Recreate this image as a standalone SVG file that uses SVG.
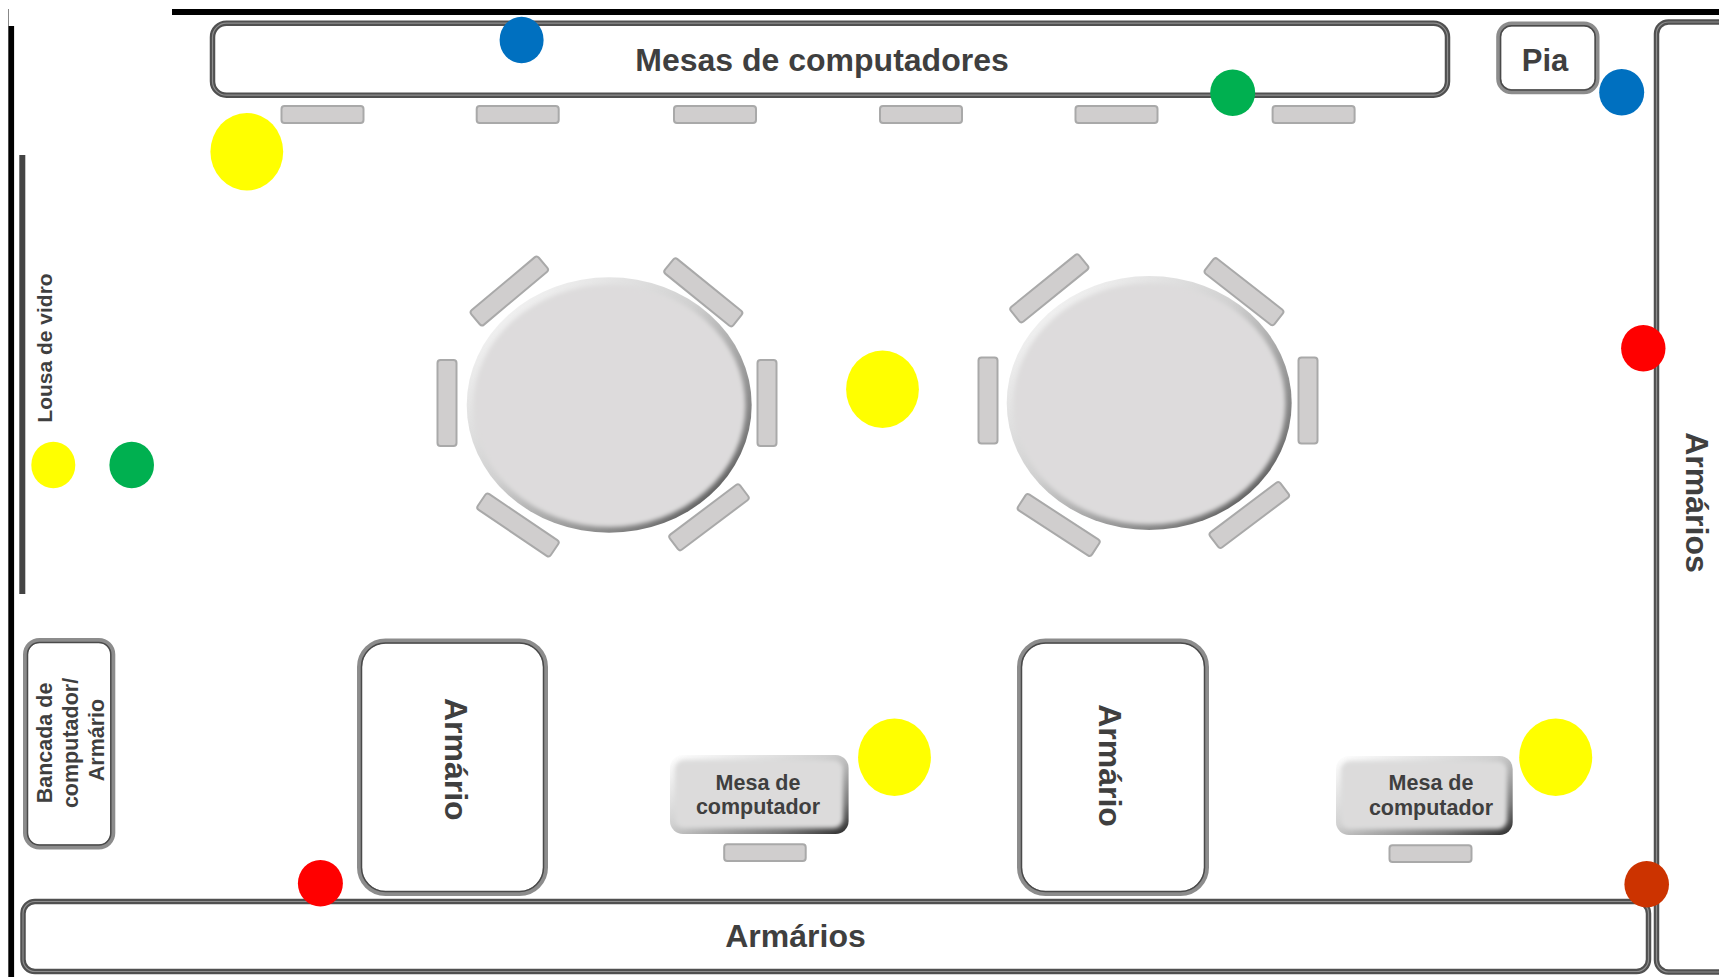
<svg xmlns="http://www.w3.org/2000/svg" width="1719" height="977" viewBox="0 0 1719 977">
  <defs>
    <linearGradient id="bevel" x1="0" y1="0" x2="1" y2="1">
      <stop offset="0" stop-color="#ffffff"/>
      <stop offset="0.45" stop-color="#d0d0d0"/>
      <stop offset="0.8" stop-color="#7a7a7a"/>
      <stop offset="1" stop-color="#2a2a2a"/>
    </linearGradient>
    <filter id="soft" x="-10%" y="-10%" width="120%" height="120%">
      <feGaussianBlur stdDeviation="2"/>
    </filter>
    <style>
      .wall { fill: #000000; }
      .frame { fill: #ffffff; stroke: #505050; stroke-width: 5.5; }
      .frameline { fill: none; stroke: #8e8e8e; stroke-width: 1.2; }
      .box { fill: #ffffff; stroke: #8c8c8c; stroke-width: 5; }
      .boxline { fill: none; stroke: #4a4a4a; stroke-width: 1.5; }
      .chair { fill: #d0cece; stroke: #a9a9a9; stroke-width: 2; }
      .tabletop { fill: #dddbdc; }
      .lbl { font-family: "Liberation Sans", Arial, sans-serif; font-weight: bold; fill: #3f3f3f; text-anchor: middle; }
      .yellow { fill: #ffff00; }
      .green { fill: #00b050; }
      .blue { fill: #0070c0; }
      .red { fill: #ff0000; }
      .orange { fill: #cc3300; }
    </style>
  </defs>

  <rect width="1719" height="977" fill="#ffffff"/>

  <!-- walls -->
  <g id="walls">
    <line x1="8.5" y1="9" x2="8.5" y2="26" stroke="#888888" stroke-width="1"/>
    <rect class="wall" x="8.3" y="26" width="5.8" height="951"/>
    <rect class="wall" x="172" y="9" width="1547" height="6"/>
  </g>

  <!-- Lousa de vidro -->
  <g id="lousa">
    <rect x="19.3" y="155" width="6" height="439" fill="#444444"/>
    <text class="lbl" font-size="21" transform="translate(51.7,348) rotate(-90)">Lousa de vidro</text>
  </g>

  <!-- Mesas de computadores -->
  <g id="mesas-computadores">
    <rect class="frame" x="212.5" y="23.2" width="1235" height="72" rx="14"/>
    <rect class="frameline" x="212.5" y="23.2" width="1235" height="72" rx="14"/>
    <text class="lbl" font-size="32" x="822" y="71">Mesas de computadores</text>
  </g>

  <!-- top chairs -->
  <g id="cadeiras-topo">
    <rect class="chair" x="281.5" y="106" width="82" height="17" rx="3"/>
    <rect class="chair" x="476.7" y="106" width="82" height="17" rx="3"/>
    <rect class="chair" x="674" y="106" width="82" height="17" rx="3"/>
    <rect class="chair" x="880" y="106" width="82" height="17" rx="3"/>
    <rect class="chair" x="1075.5" y="106" width="82" height="17" rx="3"/>
    <rect class="chair" x="1272.6" y="106" width="82" height="17" rx="3"/>
  </g>

  <!-- Pia -->
  <g id="pia">
    <rect class="box" x="1498.7" y="24" width="98.3" height="67.7" rx="13"/>
    <rect class="boxline" x="1500.5" y="25.8" width="94.7" height="64.1" rx="11"/>
    <text class="lbl" font-size="31" x="1545" y="71">Pia</text>
  </g>

  <!-- Armários (right) -->
  <g id="armarios-direita">
    <rect class="frame" x="1656.5" y="22" width="120" height="950" rx="12"/>
    <rect class="frameline" x="1656.5" y="22" width="120" height="950" rx="12"/>
    <text class="lbl" font-size="32" transform="translate(1685.5,502.5) rotate(90)">Armários</text>
  </g>

  <!-- Armários (bottom) -->
  <g id="armarios-baixo">
    <rect class="frame" x="23" y="901.5" width="1625.5" height="70" rx="12"/>
    <rect class="frameline" x="23" y="901.5" width="1625.5" height="70" rx="12"/>
    <text class="lbl" font-size="32" x="795.5" y="947">Armários</text>
  </g>

  <!-- Bancada -->
  <g id="bancada">
    <rect class="box" x="25.5" y="640.5" width="87.3" height="206.6" rx="14"/>
    <rect class="boxline" x="27.5" y="642.5" width="83.3" height="202.6" rx="12"/>
    <text class="lbl" font-size="21.5" transform="translate(51.8,740) rotate(-90)">
      <tspan x="0" y="0">Bancada de</tspan>
      <tspan x="0" y="26.2">computador/</tspan>
      <tspan x="0" y="52.5">Armário</tspan>
    </text>
  </g>

  <!-- Armário 1 -->
  <g id="armario-1">
    <rect class="box" x="359.5" y="641" width="186" height="252.5" rx="26"/>
    <rect class="boxline" x="361.5" y="643" width="182" height="248.5" rx="24"/>
    <text class="lbl" font-size="32" transform="translate(445,759.3) rotate(90)">Armário</text>
  </g>

  <!-- Armário 2 -->
  <g id="armario-2">
    <rect class="box" x="1019.5" y="641" width="187" height="252.5" rx="26"/>
    <rect class="boxline" x="1021.5" y="643" width="183" height="248.5" rx="24"/>
    <text class="lbl" font-size="32" transform="translate(1099,765.5) rotate(90)">Armário</text>
  </g>

  <!-- Mesa redonda 1 -->
  <g id="mesa-redonda-1">
    <rect class="chair" x="437.5" y="360" width="19" height="86" rx="3"/>
    <rect class="chair" x="757.5" y="360" width="19" height="86" rx="3"/>
    <rect class="chair" x="-44" y="-9.5" width="88" height="19" rx="3" transform="translate(509.3,291) rotate(-40)"/>
    <rect class="chair" x="-44" y="-9.5" width="88" height="19" rx="3" transform="translate(703.3,292.3) rotate(39)"/>
    <rect class="chair" x="-44" y="-9.5" width="88" height="19" rx="3" transform="translate(518,525) rotate(34)"/>
    <rect class="chair" x="-44" y="-9.5" width="88" height="19" rx="3" transform="translate(709,517.3) rotate(-37)"/>
    <ellipse cx="609.2" cy="405" rx="142.5" ry="127.7" fill="url(#bevel)"/>
    <ellipse class="tabletop" cx="609.5" cy="406" rx="136" ry="121" filter="url(#soft)"/>
  </g>

  <!-- Mesa redonda 2 -->
  <g id="mesa-redonda-2">
    <rect class="chair" x="978.5" y="357.5" width="19" height="86" rx="3"/>
    <rect class="chair" x="1298.5" y="357.5" width="19" height="86" rx="3"/>
    <rect class="chair" x="-44" y="-9.5" width="88" height="19" rx="3" transform="translate(1049.3,288.3) rotate(-39)"/>
    <rect class="chair" x="-44" y="-9.5" width="88" height="19" rx="3" transform="translate(1244,291.7) rotate(38)"/>
    <rect class="chair" x="-44" y="-9.5" width="88" height="19" rx="3" transform="translate(1058.7,525) rotate(33)"/>
    <rect class="chair" x="-44" y="-9.5" width="88" height="19" rx="3" transform="translate(1249.3,515) rotate(-37)"/>
    <ellipse cx="1149.2" cy="403" rx="142.5" ry="127" fill="url(#bevel)"/>
    <ellipse class="tabletop" cx="1149.5" cy="404" rx="136" ry="120.5" filter="url(#soft)"/>
  </g>

  <!-- Mesa de computador 1 -->
  <g id="mesa-computador-1">
    <rect x="670" y="755" width="178.6" height="79" rx="13" fill="url(#bevel)"/>
    <rect x="675" y="760" width="168" height="68" rx="9" fill="#dcdbdb" filter="url(#soft)"/>
    <text class="lbl" font-size="21.5" x="758" y="790">Mesa de</text>
    <text class="lbl" font-size="21.5" x="758" y="814">computador</text>
    <rect class="chair" x="724.2" y="844.3" width="81.5" height="16.7" rx="3"/>
  </g>

  <!-- Mesa de computador 2 -->
  <g id="mesa-computador-2">
    <rect x="1336" y="756" width="176.7" height="79" rx="13" fill="url(#bevel)"/>
    <rect x="1341" y="761" width="166" height="68" rx="9" fill="#dcdbdb" filter="url(#soft)"/>
    <text class="lbl" font-size="21.5" x="1431" y="790">Mesa de</text>
    <text class="lbl" font-size="21.5" x="1431" y="815">computador</text>
    <rect class="chair" x="1389.5" y="845.3" width="82" height="16.7" rx="3"/>
  </g>

  <!-- markers (dots) -->
  <g id="pontos">
    <ellipse class="blue" cx="521.6" cy="40" rx="22" ry="23.3"/>
    <ellipse class="green" cx="1232.7" cy="92.7" rx="22.5" ry="23.3"/>
    <ellipse class="blue" cx="1621.7" cy="92.3" rx="22.5" ry="23.3"/>
    <ellipse class="yellow" cx="246.8" cy="151.7" rx="36.4" ry="38.7"/>
    <ellipse class="yellow" cx="53.3" cy="465" rx="22" ry="23.3"/>
    <ellipse class="green" cx="131.7" cy="465" rx="22.3" ry="23.3"/>
    <ellipse class="yellow" cx="882.5" cy="389.2" rx="36.4" ry="38.7"/>
    <ellipse class="red" cx="1643.3" cy="348.3" rx="22.2" ry="23.3"/>
    <ellipse class="yellow" cx="894.5" cy="757.3" rx="36.4" ry="38.7"/>
    <ellipse class="yellow" cx="1555.7" cy="757.3" rx="36.5" ry="38.7"/>
    <ellipse class="red" cx="320.4" cy="883.3" rx="22.5" ry="23.3"/>
    <ellipse class="orange" cx="1646.7" cy="884.3" rx="22.3" ry="23.3"/>
  </g>

  <g id="connectors"/>
</svg>
